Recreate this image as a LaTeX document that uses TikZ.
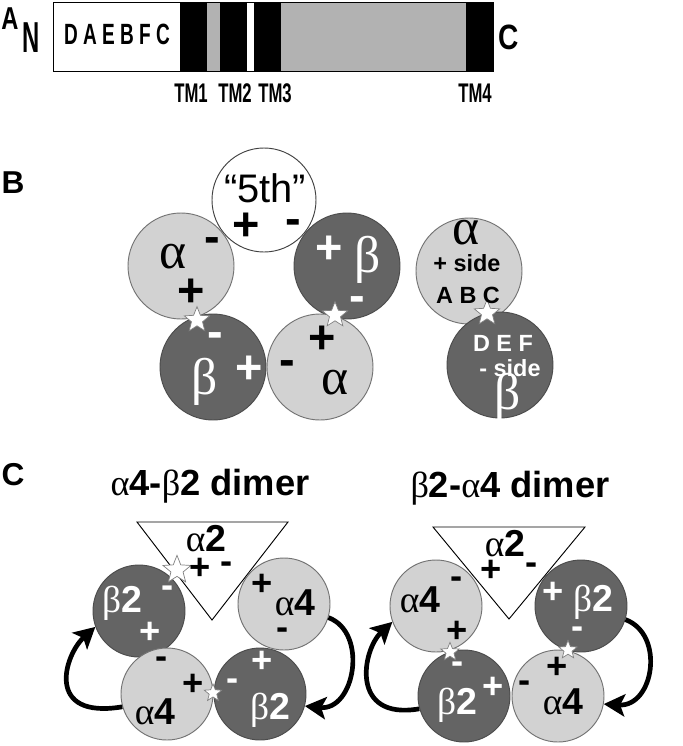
\documentclass[tikz,border=0pt]{standalone}
\usepackage{fontspec}
\setmainfont{Liberation Sans}
\newfontfamily\grk{Liberation Serif}
\usetikzlibrary{shapes.geometric,arrows.meta}
\definecolor{darkc}{RGB}{100,100,100}
\definecolor{litec}{RGB}{210,210,210}
\definecolor{barc}{RGB}{178,178,178}

\tikzset{
  sub/.style={circle,line width=0.8pt,inner sep=0pt},
  lite/.style={sub,draw=black!55,fill=litec},
  dark/.style={sub,draw=black!70,fill=darkc},
  big/.style={minimum size=3.18cm},
  small/.style={minimum size=2.76cm},
  site/.style={star,star points=5,star point ratio=2.3,draw=black!50,fill=white,inner sep=0pt,line width=0.6pt},
  panel/.style={font=\fontsize{27}{27}\selectfont\bfseries,inner sep=0pt},
  bartxt/.style={font=\fontsize{25}{25}\selectfont\bfseries,inner sep=0pt},
  tmtxt/.style={font=\fontsize{23}{23}\selectfont\bfseries,inner sep=0pt},
  sgnB/.style={font=\fontsize{40}{40}\selectfont\bfseries,inner sep=0pt},
  sgnC/.style={font=\fontsize{31}{31}\selectfont\bfseries,inner sep=0pt},
  grkB/.style={font=\fontsize{44}{44}\selectfont\grk,inner sep=0pt},
  sideB/.style={font=\fontsize{20}{20}\selectfont\bfseries,inner sep=0pt},
  subC/.style={font=\fontsize{32}{32}\selectfont\bfseries,inner sep=0pt},
  flip/.style={-{Stealth[length=18pt,width=19pt,inset=4pt]},line width=4pt},
}
\newcommand{\sq}[2][0.62]{\scalebox{#1}[1]{#2}}
\newcommand{\ga}{{\grk\mdseries α}}
\newcommand{\gb}{{\grk\mdseries β}}

\begin{document}
\begin{tikzpicture}[x=0.03cm,y=-0.03cm]
\useasboundingbox (0,0) rectangle (683,746);

\fill[white] (53,2) rectangle (493,71);
\fill (180,2) rectangle (207,71);
\fill[barc] (207,2) rectangle (220,71);
\fill (220,2) rectangle (247,71);
\fill (254,2) rectangle (281,71);
\fill[barc] (281,2) rectangle (466,71);
\fill (466,2) rectangle (493,71);
\draw[line width=0.8pt] (53,2) rectangle (493,71);
\node[panel] (lA) at (10,19) {\sq[0.75]{A}};
\node[inner sep=0pt,font=\bfseries] (nterm) at (31,38) {\sq[0.55]{\fontsize{37}{37}\selectfont N}};
\node[inner sep=0pt,font=\bfseries] (cterm) at (509,37) {\sq[0.8]{\fontsize{30}{30}\selectfont C}};
\node[bartxt] (loops) at (117,34) {\sq[0.65]{D A E B F C}};
\node[tmtxt] (tm1) at (191,93) {\sq{TM1}};
\node[tmtxt] (tm2) at (235,93) {\sq{TM2}};
\node[tmtxt] (tm3) at (275,93) {\sq{TM3}};
\node[tmtxt] (tm4) at (475,93) {\sq{TM4}};

\node[panel] (lB) at (13,183) {B};
\node[sub,big,draw=black!75,fill=white,minimum size=3.12cm] (fifth) at (264,200) {};
\node[lite,big] (aL) at (181,266) {};
\node[dark,big] (bR) at (347,266) {};
\node[dark,big] (bL) at (213,367) {};
\node[lite,big] (aR) at (320,367) {};
\node[site,minimum size=0.8cm] (sL) at (197,320) {};
\node[site,minimum size=0.8cm] (sR) at (335,315) {};
\node[font=\fontsize{34}{34}\selectfont,inner sep=0pt] (t5) at (265,188) {“5th”};
\node[sgnB] (p5) at (246,227) {+};
\node[sgnB] (m5) at (293,227) {-};
\node[grkB] (gaL) at (173,257) {α};
\node[sgnB] (maL) at (212,245) {-};
\node[sgnB] (paL) at (191,293) {+};
\node[sgnB,text=white] (pbR) at (329,250) {+};
\node[grkB,text=white] (gbR) at (368,260) {β};
\node[sgnB,text=white] (mbR) at (357,304) {-};
\node[sgnB,text=white] (mbL) at (215,340) {-};
\node[sgnB,text=white] (pbL) at (249,370) {+};
\node[grkB,text=white] (gbL) at (205,382) {β};
\node[sgnB] (paR) at (322,340) {+};
\node[sgnB] (maR) at (287,368) {-};
\node[grkB] (gaR) at (335,383) {α};

\node[lite,big] (aP) at (469,271) {};
\node[dark,big] (bP) at (500,365) {};
\node[site,minimum size=0.8cm] (sP) at (487,313) {};
\node[grkB] (gaP) at (466,233) {α};
\node[sideB] (plusP) at (467,263) {+ side};
\node[sideB] (abc) at (468,295) {A B C};
\node[sideB,text=white] (def) at (503,343) {D E F};
\node[sideB,text=white] (minusP) at (510,368) {- side};
\node[grkB,text=white] (gbP) at (508,397) {β};

\node[panel] (lC) at (13,475) {C};
\node[subC,font=\fontsize{31}{31}\selectfont\bfseries] (ttl1) at (210,486) {\ga4-\gb2 dimer};
\node[subC,font=\fontsize{31}{31}\selectfont\bfseries] (ttl2) at (510,488) {\gb2-\ga4 dimer};

\draw[line width=0.8pt,fill=white] (137,522) -- (288,522) -- (212,620) -- cycle;
\draw[line width=0.8pt,fill=white] (433,527) -- (585,527) -- (509,619) -- cycle;

\node[dark,small] (b1) at (139,611) {};
\node[lite,small] (a1) at (284,604) {};
\node[lite,small] (a2) at (167,694) {};
\node[dark,small] (b2) at (260,694) {};
\node[site,minimum size=0.88cm] (s1) at (177,570) {};
\node[site,minimum size=0.55cm] (s2) at (213,693) {};
\node[subC] (x1) at (206,539) {\ga2};
\node[sgnC] (px1) at (200,569) {+};
\node[sgnC] (mx1) at (227,568) {-};
\node[subC,text=white] (gb1) at (122,603) {\gb2};
\node[sgnC,text=white] (mb1) at (168,592) {-};
\node[sgnC,text=white] (pb1) at (150,633) {+};
\node[sgnC] (pa1) at (262,585) {+};
\node[subC] (ga1) at (295,603) {\ga4};
\node[sgnC] (ma1) at (283,634) {-};
\node[sgnC] (ma2) at (162,663) {-};
\node[sgnC] (pa2) at (193,685) {+};
\node[subC] (ga2) at (155,712) {\ga4};
\node[sgnC,text=white] (pb2) at (262,662) {+};
\node[sgnC,text=white] (mb2) at (233,685) {-};
\node[subC,text=white] (gb2) at (270,710) {\gb2};
\draw[flip] (a2.196) .. controls +(-78,13) and +(-31,28) .. (b1.200);
\draw[flip] (a1.-17) .. controls +(40,15) and +(50,5) .. (b2.-15);

\node[lite,small] (a3) at (436,606) {};
\node[dark,small] (b3) at (581,606) {};
\node[dark,small] (b4) at (464,696) {};
\node[lite,small] (a4) at (558,696) {};
\node[site,minimum size=0.58cm] (s3) at (450,652) {};
\node[site,minimum size=0.58cm] (s4) at (568,650) {};
\node[subC] (x2) at (505,544) {\ga2};
\node[sgnC] (px2) at (491,571) {+};
\node[sgnC] (mx2) at (532,569) {-};
\node[subC] (ga3) at (420,600) {\ga4};
\node[sgnC] (ma3) at (457,583) {-};
\node[sgnC] (pa3) at (457,632) {+};
\node[sgnC,text=white] (pb3) at (553,593) {+};
\node[subC,text=white] (gb3) at (593,602) {\gb2};
\node[sgnC,text=white] (mb3) at (578,633) {-};
\node[sgnC,text=white] (mb4) at (458,668) {-};
\node[sgnC,text=white] (pb4) at (493,688) {+};
\node[subC,text=white] (gb4) at (457,705) {\gb2};
\node[sgnC] (pa4) at (557,668) {+};
\node[sgnC] (ma4) at (525,687) {-};
\node[subC] (ga4) at (563,702) {\ga4};
\draw[flip] (b4.196) .. controls +(-70,12) and +(-30,28) .. (a3.200);
\draw[flip] (b3.-17) .. controls +(40,15) and +(50,3) .. (a4.-10);
\end{tikzpicture}
\end{document}
